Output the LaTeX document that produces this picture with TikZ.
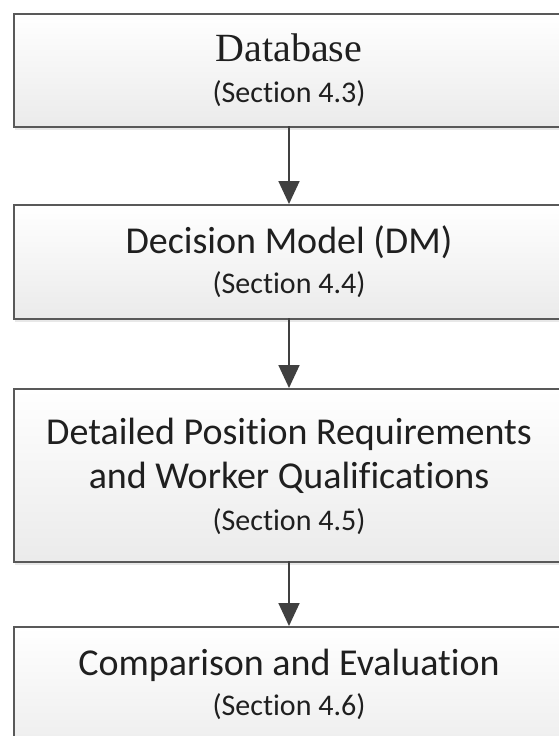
\documentclass[tikz,border=0pt]{standalone}
\usepackage{fontspec}
\setmainfont{Carlito}[Ligatures=NoCommon]
\newfontfamily\dbserif{Liberation Serif}
\usetikzlibrary{shadows,arrows.meta}
\tikzset{
  box/.style={draw=black!65, line width=1.6pt, rectangle, top color=white, bottom color=black!8,
    minimum width=552pt, inner sep=0pt, anchor=north west,
    drop shadow={opacity=0.18, shadow xshift=1.5pt, shadow yshift=-3pt}},
  maintext/.style={anchor=base, inner sep=0pt, font=\fontsize{38}{44}\selectfont, text=black!88},
  sectext/.style={anchor=base, inner sep=0pt, font=\fontsize{30}{34}\selectfont, text=black!88},
  flow/.style={draw=black!75, line width=1.8pt, -{Triangle[length=23pt,width=21pt]}}
}
\begin{document}
\begin{tikzpicture}[x=1pt,y=1pt]
\useasboundingbox (0,0) rectangle (559,-736);
\clip (0,0) rectangle (559,-736);
\fill[white] (0,0) rectangle (559,-736);
\node[box, minimum height=113pt] (b1) at (13,-13) {};
\node[box, minimum height=114pt] (b2) at (13,-204) {};
\node[box, minimum height=173pt] (b3) at (13,-388) {};
\node[box, minimum height=140pt] (b4) at (13,-626) {};
\node[maintext, font=\dbserif\fontsize{40}{44}\selectfont] (t1) at (289,-61) {Database};
\node[sectext] (s1) at (289,-102) {(Section 4.3)};
\node[maintext] (t2) at (289,-253) {Decision Model (DM)};
\node[sectext] (s2) at (289,-293) {(Section 4.4)};
\node[maintext] (t3a) at (289,-444) {Detailed Position Requirements};
\node[maintext] (t3b) at (289,-488) {and Worker Qualifications};
\node[sectext] (s3) at (289,-530) {(Section 4.5)};
\node[maintext] (t4) at (289,-675) {Comparison and Evaluation};
\node[sectext] (s4) at (289,-715) {(Section 4.6)};
\coordinate (a1) at (289,-126);
\draw[flow] (a1) -- (a1 |- b2.north);
\draw[flow] (289,-318) coordinate (a2) -- (a2 |- b3.north);
\draw[flow] (289,-561) coordinate (a3) -- (a3 |- b4.north);
\end{tikzpicture}
\end{document}
